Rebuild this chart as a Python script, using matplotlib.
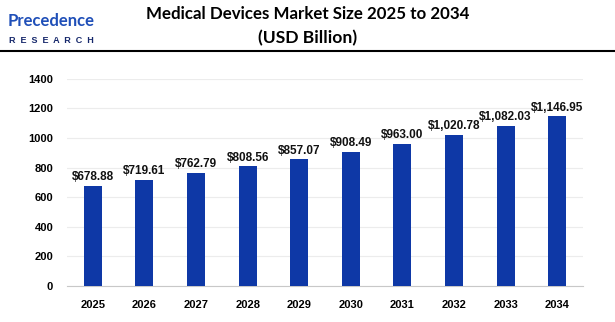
import matplotlib.pyplot as plt
from matplotlib.lines import Line2D

years = ['2025', '2026', '2027', '2028', '2029', '2030', '2031', '2032', '2033', '2034']
values = [678.88, 719.61, 762.79, 808.56, 857.07, 908.49, 963.00, 1020.78, 1082.03, 1146.95]
labels = ['$678.88', '$719.61', '$762.79', '$808.56', '$857.07', '$908.49',
          '$963.00', '$1,020.78', '$1,082.03', '$1,146.95']
yticks = [0, 200, 400, 600, 800, 1000, 1200, 1400]

plt.rcParams['font.family'] = ['Liberation Sans', 'DejaVu Sans']

fig = plt.figure(figsize=(6.15, 3.22), dpi=100)
ax = fig.add_axes([0.109, 0.112, 0.839, 0.643])

x = range(len(years))
ax.bar(x, values, width=0.35, color='#0e38a6', zorder=3)
for i, v in enumerate(values):
    ax.text(i, v + 18, labels[i], ha='center', va='bottom', fontsize=8.5,
            fontweight='bold', color='#111111')

ax.set_xlim(-0.5, len(years) - 0.5)
ax.set_ylim(0, 1400)
ax.set_yticks(yticks)
ax.set_xticks(list(x))
ax.set_xticklabels(years)
ax.tick_params(axis='both', length=0, labelsize=8, pad=10)
for lbl in ax.get_xticklabels() + ax.get_yticklabels():
    lbl.set_fontweight('bold')
ax.grid(axis='y', color='#ececec', linewidth=0.8, zorder=0)
for s in ['top', 'right', 'left']:
    ax.spines[s].set_visible(False)
ax.spines['bottom'].set_color('#c8c8c8')

fig.text(0.5, 0.958, 'Medical Devices Market Size 2025 to 2034', ha='center', va='center',
         fontsize=12.2, fontweight='bold', family=['Lato', 'DejaVu Sans'])
fig.text(0.5, 0.882, '(USD Billion)', ha='center', va='center',
         fontsize=12.6, fontweight='bold', family=['Lato', 'DejaVu Sans'])

# logo
fig.text(0.012, 0.935, 'Precedence', ha='left', va='center', fontsize=12,
         fontweight='bold', color='#1f4fb8', family=['Lato', 'DejaVu Sans'])
fig.text(0.014, 0.875, 'R  E  S  E  A  R  C  H', ha='left', va='center', fontsize=6.5,
         fontweight='bold', color='#16286b')

fig.add_artist(Line2D([0, 1], [0.842, 0.842], color='black', linewidth=1.5,
                      transform=fig.transFigure))

fig.savefig('out.png', dpi=100)
